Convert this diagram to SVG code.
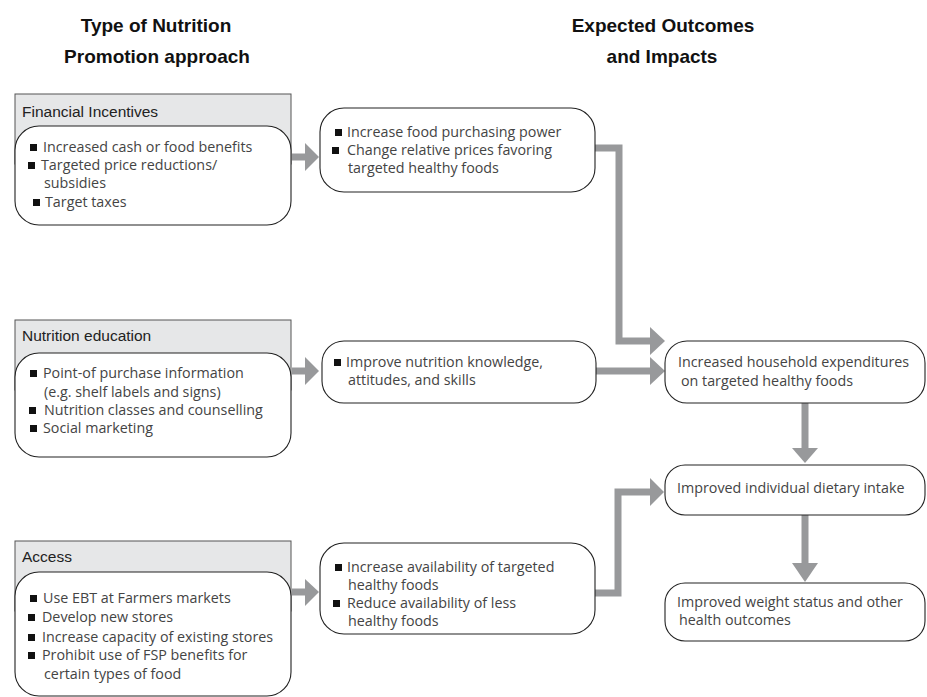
<svg xmlns="http://www.w3.org/2000/svg" width="927" height="697" viewBox="0 0 927 697">
<style>
.hdr{font-family:"Liberation Sans",Arial,sans-serif;font-weight:bold;font-size:19px;fill:#111;text-anchor:middle}
.ttl{font-family:"Liberation Sans",Arial,sans-serif;font-size:15.5px;fill:#222}
.txt{font-family:"Open Sans","Liberation Sans",Arial,sans-serif;font-size:14.3px;fill:#444}
.gbox{fill:#e6e7e8;stroke:#555;stroke-width:1}
.rbox{fill:#fff;stroke:#222;stroke-width:1.1}
.bul{fill:#111}
.conn{fill:none;stroke:#98999b;stroke-width:7}
.head{fill:#98999b}
</style>
<g id="headers">
<text class="hdr" x="156" y="32">Type of Nutrition</text>
<text class="hdr" x="157" y="63">Promotion approach</text>
<text class="hdr" x="663" y="32">Expected Outcomes</text>
<text class="hdr" x="662" y="63">and Impacts</text>
</g>
<g id="connectors">
<line class="conn" x1="292" y1="157" x2="306" y2="157"/>
<polygon class="head" points="305,143 319,157 305,171"/>
<line class="conn" x1="292" y1="371" x2="306" y2="371"/>
<polygon class="head" points="305,357 319,371 305,385"/>
<line class="conn" x1="292" y1="592" x2="306" y2="592"/>
<polygon class="head" points="305,579 319,592 305,606"/>
<polyline class="conn" points="595,148 619,148 619,341 651,341"/>
<polygon class="head" points="650,327 665,341 650,355"/>
<line class="conn" x1="596" y1="371" x2="651" y2="371"/>
<polygon class="head" points="650,357 665,371 650,385"/>
<polyline class="conn" points="595,593 618,593 618,492 651,492"/>
<polygon class="head" points="650,478 664,492 650,506"/>
<line class="conn" x1="805" y1="403" x2="805" y2="449"/>
<polygon class="head" points="792,448 818,448 805,463"/>
<line class="conn" x1="805" y1="515" x2="805" y2="564"/>
<polygon class="head" points="792,563 818,563 805,582"/>
</g>
<g id="financial-incentives">
<rect class="gbox" x="15" y="94" width="276" height="70"/>
<text class="ttl" x="22" y="117">Financial Incentives</text>
<rect class="rbox" x="15" y="126" width="276" height="99" rx="24" ry="24"/>
<rect class="bul" x="30" y="144" width="7" height="7"/>
<text class="txt" x="43" y="152">Increased cash or food benefits</text>
<rect class="bul" x="28" y="162" width="7" height="7"/>
<text class="txt" x="41" y="170">Targeted price reductions/</text>
<text class="txt" x="44" y="188">subsidies</text>
<rect class="bul" x="33" y="199" width="7" height="7"/>
<text class="txt" x="45" y="207">Target taxes</text>
</g>
<g id="nutrition-education">
<rect class="gbox" x="15" y="320" width="276" height="70"/>
<text class="ttl" x="22" y="341">Nutrition education</text>
<rect class="rbox" x="15" y="353" width="276" height="104" rx="24" ry="24"/>
<rect class="bul" x="30" y="370" width="7" height="7"/>
<text class="txt" x="43" y="378">Point-of purchase information</text>
<text class="txt" x="44" y="397">(e.g. shelf labels and signs)</text>
<rect class="bul" x="29" y="407" width="7" height="7"/>
<text class="txt" x="44" y="415">Nutrition classes and counselling</text>
<rect class="bul" x="30" y="425" width="7" height="7"/>
<text class="txt" x="43" y="433">Social marketing</text>
</g>
<g id="access">
<rect class="gbox" x="15" y="541" width="276" height="70"/>
<text class="ttl" x="22" y="562">Access</text>
<rect class="rbox" x="15" y="572" width="276" height="124" rx="24" ry="24"/>
<rect class="bul" x="30" y="595" width="7" height="7"/>
<text class="txt" x="43" y="603">Use EBT at Farmers markets</text>
<rect class="bul" x="28" y="614" width="7" height="7"/>
<text class="txt" x="42" y="622">Develop new stores</text>
<rect class="bul" x="28" y="634" width="7" height="7"/>
<text class="txt" x="42" y="642">Increase capacity of existing stores</text>
<rect class="bul" x="28" y="652" width="7" height="7"/>
<text class="txt" x="42" y="660">Prohibit use of FSP benefits for</text>
<text class="txt" x="44" y="679">certain types of food</text>
</g>
<g id="purchasing-power">
<rect class="rbox" x="320" y="108" width="275" height="84" rx="24" ry="24"/>
<rect class="bul" x="335" y="129" width="7" height="7"/>
<text class="txt" x="347" y="137">Increase food purchasing power</text>
<rect class="bul" x="332" y="147" width="7" height="7"/>
<text class="txt" x="347" y="155">Change relative prices favoring</text>
<text class="txt" x="348" y="173">targeted healthy foods</text>
</g>
<g id="nutrition-knowledge">
<rect class="rbox" x="322" y="341" width="274" height="62" rx="22" ry="22"/>
<rect class="bul" x="334" y="359" width="7" height="7"/>
<text class="txt" x="346" y="367">Improve nutrition knowledge,</text>
<text class="txt" x="348" y="385">attitudes, and skills</text>
</g>
<g id="availability">
<rect class="rbox" x="320" y="543" width="275" height="91" rx="24" ry="24"/>
<rect class="bul" x="335" y="564" width="7" height="7"/>
<text class="txt" x="347" y="572">Increase availability of targeted</text>
<text class="txt" x="348" y="590">healthy foods</text>
<rect class="bul" x="333" y="600" width="7" height="7"/>
<text class="txt" x="347" y="608">Reduce availability of less</text>
<text class="txt" x="348" y="626">healthy foods</text>
</g>
<g id="household-expenditures">
<rect class="rbox" x="665" y="341" width="260" height="62" rx="22" ry="22"/>
<text class="txt" x="678" y="367">Increased household expenditures</text>
<text class="txt" x="681" y="386">on targeted healthy foods</text>
</g>
<g id="dietary-intake">
<rect class="rbox" x="665" y="465" width="260" height="50" rx="20" ry="20"/>
<text class="txt" x="677" y="493">Improved individual dietary intake</text>
</g>
<g id="weight-status">
<rect class="rbox" x="665" y="583" width="260" height="58" rx="20" ry="20"/>
<text class="txt" x="677" y="607">Improved weight status and other</text>
<text class="txt" x="679" y="625">health outcomes</text>
</g>
</svg>
